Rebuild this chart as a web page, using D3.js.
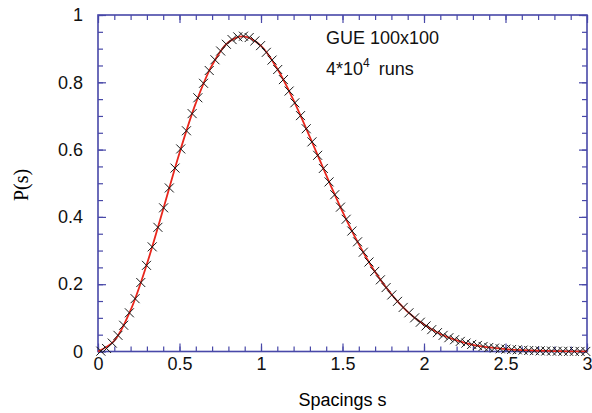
<!DOCTYPE html>
<html>
<head>
<meta charset="utf-8">
<script src="https://cdn.jsdelivr.net/npm/d3@7"></script>
<style>
  body { margin: 0; background: #fff; }
  .tickLabel text { font-family: "Liberation Sans", Arial, sans-serif; font-size: 18px; fill: #111; }
</style>
</head>
<body>
<div id="chart"></div>
<script>
// Histogram points (crosses)
var spacingS = [0.0175, 0.0525, 0.0875, 0.1225, 0.1575, 0.1925, 0.2275, 0.2625, 0.2975, 0.3325,
  0.3675, 0.4025, 0.4375, 0.4725, 0.5075, 0.5425, 0.5775, 0.6125, 0.6475, 0.6825,
  0.7175, 0.7525, 0.7875, 0.8225, 0.8575, 0.8925, 0.9275, 0.9625, 0.9975, 1.0325,
  1.0675, 1.1025, 1.1375, 1.1725, 1.2075, 1.2425, 1.2775, 1.3125, 1.3475, 1.3825,
  1.4175, 1.4525, 1.4875, 1.5225, 1.5575, 1.5925, 1.6275, 1.6625, 1.6975, 1.7325,
  1.7675, 1.8025, 1.8375, 1.8725, 1.9075, 1.9425, 1.9775, 2.0125, 2.0475, 2.0825,
  2.1175, 2.1525, 2.1875, 2.2225, 2.2575, 2.2925, 2.3275, 2.3625, 2.3975, 2.4325,
  2.4675, 2.5025, 2.5375, 2.5725, 2.6075, 2.6425, 2.6775, 2.7125, 2.7475, 2.7825,
  2.8175, 2.8525, 2.8875, 2.9225, 2.9575, 2.9925];
var histP = [0.001, 0.009, 0.025, 0.048, 0.078, 0.115, 0.157, 0.205, 0.256, 0.311,
  0.369, 0.427, 0.486, 0.545, 0.602, 0.656, 0.707, 0.754, 0.797, 0.835,
  0.867, 0.893, 0.913, 0.927, 0.935, 0.937, 0.933, 0.923, 0.909, 0.889,
  0.866, 0.838, 0.808, 0.774, 0.739, 0.701, 0.662, 0.623, 0.583, 0.544,
  0.504, 0.466, 0.429, 0.393, 0.358, 0.326, 0.295, 0.266, 0.238, 0.213,
  0.190, 0.168, 0.149, 0.131, 0.115, 0.100, 0.087, 0.076, 0.065, 0.056,
  0.048, 0.041, 0.035, 0.030, 0.025, 0.021, 0.018, 0.015, 0.012, 0.010,
  0.008, 0.007, 0.006, 0.005, 0.004, 0.003, 0.0024, 0.0019, 0.0015, 0.0012,
  0.0009, 0.0007, 0.0005, 0.0004, 0.0003, 0.0002];

// Red curve (surmise)
var curveS = [0, 0.1, 0.2, 0.3, 0.4, 0.5, 0.6, 0.7, 0.8, 0.9, 1.0, 1.1, 1.2, 1.3, 1.4, 1.5,
  1.6, 1.7, 1.8, 1.9, 2.0, 2.1, 2.2, 2.3, 2.4, 2.5, 2.6, 2.7, 2.8, 2.9, 3.0];
var curveP = [0, 0.032, 0.123, 0.260, 0.423, 0.590, 0.738, 0.851, 0.919, 0.936, 0.908, 0.840,
  0.746, 0.637, 0.524, 0.416, 0.319, 0.236, 0.170, 0.118, 0.080, 0.052, 0.033, 0.020,
  0.012, 0.007, 0.004, 0.0022, 0.0012, 0.0006, 0.0003];

// tick labels
var xTicks = [0, 0.5, 1, 1.5, 2, 2.5, 3];
var xTickLabels = ["0", "0.5", "1", "1.5", "2", "2.5", "3"];
var yTicks = [0, 0.2, 0.4, 0.6, 0.8, 1];
var yTickLabels = ["0", "0.2", "0.4", "0.6", "0.8", "1"];

// Set up our chart
var svgWidth = 592;
var svgHeight = 413;

var margin = {
  top: 15,
  right: 5,
  bottom: 61.5,
  left: 98
};

var width = svgWidth - margin.left - margin.right;
var height = svgHeight - margin.top - margin.bottom;

var axisColor = "#4848a8";

var svg = d3.select("#chart")
  .append("svg")
  .attr("width", svgWidth)
  .attr("height", svgHeight);

var chartGroup = svg.append("g")
  .attr("transform", `translate(${margin.left}, ${margin.top})`);

var xLinearScale = d3.scaleLinear().domain([0, 3]).range([0, width]);
var yLinearScale = d3.scaleLinear().domain([0, 1]).range([height, 0]);

var minorX = d3.range(0, 31).map(d => d / 10);
var minorY = d3.range(0, 21).map(d => d / 20);

// helper to draw an axis with inward ticks
function drawAxis(axisFn, scale, values, size, labels, padding, transform) {
  var ax = axisFn(scale)
    .tickValues(values)
    .tickSizeInner(-size)
    .tickSizeOuter(0)
    .tickPadding(padding)
    .tickFormat((d, i) => labels ? labels[i] : "");
  var g = chartGroup.append("g")
    .attr("class", "tickLabel")
    .attr("transform", transform)
    .call(ax);
  g.select(".domain").remove();
  g.selectAll("line").attr("stroke", axisColor).attr("stroke-width", 1.2);
  return g;
}

// minor ticks on all four sides
drawAxis(d3.axisBottom, xLinearScale, minorX, 5, null, 0, `translate(0, ${height})`);
drawAxis(d3.axisTop, xLinearScale, minorX, 5, null, 0, "translate(0, 0)");
drawAxis(d3.axisLeft, yLinearScale, minorY, 5, null, 0, "translate(0, 0)");
drawAxis(d3.axisRight, yLinearScale, minorY, 5, null, 0, `translate(${width}, 0)`);

// major ticks + labels
drawAxis(d3.axisBottom, xLinearScale, xTicks, 8, xTickLabels, 6, `translate(0, ${height})`);
drawAxis(d3.axisTop, xLinearScale, xTicks, 8, null, 0, "translate(0, 0)");
drawAxis(d3.axisLeft, yLinearScale, yTicks, 8, yTickLabels, 15, "translate(0, 0)");
drawAxis(d3.axisRight, yLinearScale, yTicks, 8, null, 0, `translate(${width}, 0)`);

// frame
chartGroup.append("rect")
  .attr("x", 0)
  .attr("y", 0)
  .attr("width", width)
  .attr("height", height)
  .attr("fill", "none")
  .attr("stroke", axisColor)
  .attr("stroke-width", 1.6);

// red curve
var curveData = curveS.map((s, i) => ({ s: s, p: curveP[i] }));
var line = d3.line()
  .x(d => xLinearScale(d.s))
  .y(d => yLinearScale(d.p))
  .curve(d3.curveCatmullRom);

chartGroup.append("path")
  .datum(curveData)
  .attr("d", line)
  .attr("fill", "none")
  .attr("stroke", "#e8261c")
  .attr("stroke-width", 1.8);

// crosses
var histData = spacingS.map((s, i) => ({ s: s, p: histP[i] }));
chartGroup.selectAll(".cross")
  .data(histData)
  .enter()
  .append("path")
  .attr("class", "cross")
  .attr("transform", d => `translate(${xLinearScale(d.s)}, ${yLinearScale(d.p)})`)
  .attr("d", "M-4.5,-4.5L4.5,4.5M-4.5,4.5L4.5,-4.5")
  .attr("stroke", "#1a1a1a")
  .attr("stroke-width", 1)
  .attr("fill", "none");

// axis titles
svg.append("text")
  .attr("x", margin.left + width / 2)
  .attr("y", 406)
  .attr("text-anchor", "middle")
  .style("font-family", "Liberation Sans, Arial, sans-serif")
  .style("font-size", "18px")
  .text("Spacings s");

svg.append("text")
  .attr("transform", "translate(28, 185) rotate(-90)")
  .attr("text-anchor", "middle")
  .style("font-family", "Liberation Serif, Times New Roman, serif")
  .style("font-size", "20px")
  .text("P(s)");

// annotation
var note = svg.append("g")
  .style("font-family", "Liberation Sans, Arial, sans-serif")
  .style("font-size", "18px")
  .style("fill", "#111");

note.append("text")
  .attr("x", 326)
  .attr("y", 44)
  .text("GUE 100x100");

var runs = note.append("text")
  .attr("x", 326)
  .attr("y", 75);
runs.append("tspan").text("4*10");
runs.append("tspan").attr("dy", -8).style("font-size", "12px").text("4");
runs.append("tspan").attr("dy", 8).attr("dx", 9).text("runs");
</script>
</body>
</html>
